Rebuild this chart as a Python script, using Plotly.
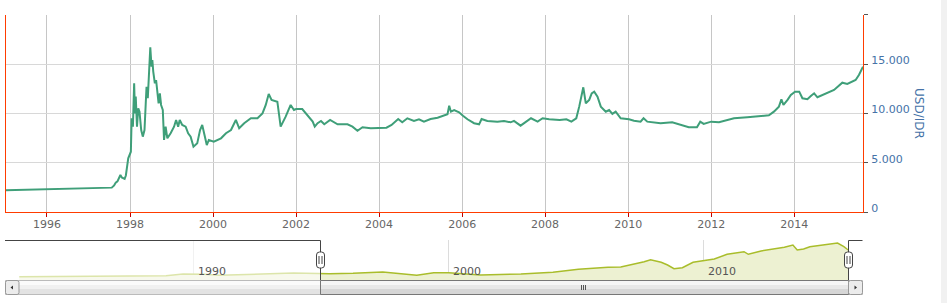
import plotly.graph_objects as go

# ---------------- data ----------------
usd_idr_dates = [
    "1995-01-01", "1995-07-01", "1996-01-01", "1996-07-01", "1997-01-01", "1997-06-15",
    "1997-07-24", "1997-08-14", "1997-08-28", "1997-09-12", "1997-10-08", "1997-10-20",
    "1997-11-14", "1997-11-25", "1997-12-09", "1997-12-16", "1998-01-08", "1998-01-15",
    "1998-01-26", "1998-02-06", "1998-02-13", "1998-02-20", "1998-03-03", "1998-03-14",
    "1998-03-25", "1998-04-09", "1998-04-23", "1998-05-08", "1998-05-19", "1998-05-26",
    "1998-06-06", "1998-06-21", "1998-06-28", "1998-07-09", "1998-07-16", "1998-07-24",
    "1998-08-07", "1998-08-18", "1998-08-29", "1998-09-09", "1998-09-20", "1998-10-01",
    "1998-10-16", "1998-10-27", "1998-11-10", "1998-11-25", "1998-12-24", "1999-01-23",
    "1999-02-10", "1999-02-28", "1999-03-14", "1999-04-05", "1999-05-05", "1999-05-27",
    "1999-06-18", "1999-07-13", "1999-08-15", "1999-09-09", "1999-09-28", "1999-10-12",
    "1999-11-07", "1999-11-25", "2000-01-08", "2000-03-11", "2000-04-24", "2000-06-07",
    "2000-07-20", "2000-08-18", "2000-10-01", "2000-11-29", "2001-01-26", "2001-03-11",
    "2001-04-09", "2001-05-05", "2001-05-30", "2001-07-20", "2001-08-18", "2001-10-01",
    "2001-11-14", "2001-12-13",
    "2002-01-01", "2002-02-24", "2002-04-09", "2002-05-27", "2002-06-14", "2002-07-09",
    "2002-08-08", "2002-09-06", "2002-10-27", "2003-01-01", "2003-03-29", "2003-05-12",
    "2003-06-25", "2003-08-08", "2003-10-20", "2004-01-01", "2004-03-06", "2004-04-20",
    "2004-06-17", "2004-07-23", "2004-09-06", "2004-11-03", "2004-12-17", "2005-01-30",
    "2005-03-29", "2005-05-30", "2005-07-27", "2005-08-25", "2005-09-09", "2005-09-24",
    "2005-10-23", "2005-12-05", "2006-01-08", "2006-02-17", "2006-04-16", "2006-05-30",
    "2006-06-21", "2006-08-11", "2006-11-07", "2007-01-04", "2007-03-04", "2007-04-02",
    "2007-05-30", "2007-07-13", "2007-08-30", "2007-10-27", "2007-12-10", "2008-02-06",
    "2008-05-08", "2008-07-06", "2008-08-19", "2008-10-01", "2008-10-27", "2008-12-02",
    "2008-12-24", "2009-01-23", "2009-02-14", "2009-03-08", "2009-04-06", "2009-05-05",
    "2009-06-18", "2009-07-17", "2009-08-15", "2009-09-13", "2009-10-27", "2010-01-08",
    "2010-02-21", "2010-04-20", "2010-05-16", "2010-06-18", "2010-10-13", "2011-01-23",
    "2011-04-06", "2011-06-18", "2011-08-29", "2011-09-27", "2011-10-27", "2012-01-01",
    "2012-03-10", "2012-05-23", "2012-07-20", "2012-11-14", "2013-03-11", "2013-05-23",
    "2013-07-06", "2013-08-19", "2013-09-10", "2013-09-28", "2013-11-03", "2013-12-02",
    "2014-01-08", "2014-02-14", "2014-03-14", "2014-04-27", "2014-05-27", "2014-06-25",
    "2014-07-24", "2014-10-20", "2014-12-17", "2015-02-28", "2015-04-13", "2015-06-25",
    "2015-07-24", "2015-08-29",
]
usd_idr_values = [
    2200, 2250, 2290, 2340, 2370, 2430,
    2470, 2700, 2980, 3100, 3750, 3500,
    3350, 3700, 4970, 5440, 6110, 9500,
    8650, 13050, 10000, 11700, 8650, 10510,
    10170, 8310, 7640, 8310, 11020, 12700,
    11530, 15400, 16700, 14730, 15400, 14230,
    13050, 13380, 12200, 11020, 12030, 10850,
    10340, 7300, 8650, 7470, 7980, 8650,
    9330, 8650, 9330, 8820, 8650, 7980,
    7640, 6620, 6960, 8310, 8820, 7980,
    6790, 7300, 7130, 7470, 7980, 8310,
    9330, 8490, 9000, 9500, 9500, 10000,
    10850, 11960, 11360, 11180, 8650, 9660,
    10850, 10340,
    10440, 10440, 9840, 9160, 8650, 9000,
    9230, 8890, 9330, 8890, 8890, 8650,
    8240, 8590, 8490, 8490, 8550, 8820,
    9430, 9090, 9500, 9230, 9400, 9160,
    9430, 9560, 9840, 9910, 10780, 10170,
    10340, 10110, 9760, 9400, 9000, 8890,
    9430, 9230, 9160, 9230, 9090, 9230,
    8750, 9090, 9500, 9160, 9500, 9400,
    9330, 9400, 9160, 9500, 10680, 12640,
    11020, 11360, 12030, 12200, 11700, 10680,
    10170, 10340, 9940, 10170, 9500, 9400,
    9260, 9160, 9500, 9160, 9000, 9090,
    8820, 8590, 8590, 9160, 8930, 9160,
    9090, 9330, 9500, 9600, 9730, 9800,
    10170, 10680, 11430, 10850, 11360, 11860,
    12200, 12200, 11530, 11430, 11760, 12030,
    11630, 12030, 12370, 13110, 12980, 13380,
    13890, 14730,
]

# navigator series (relative scale 0-40)
nav_dates = [
    "1983-03-01", "1988-12-01", "1989-08-01", "1990-06-01", "1991-01-01", "1993-12-01",
    "1995-05-01", "1996-04-01", "1997-06-01", "1998-10-01", "1999-06-01", "2000-01-01",
    "2001-04-01", "2002-11-01", "2004-02-01", "2005-02-01", "2006-04-01", "2006-10-01",
    "2007-09-01", "2007-12-01", "2008-05-01", "2008-08-01", "2008-11-01", "2009-03-01",
    "2009-08-01", "2010-01-01", "2010-06-01", "2010-12-01", "2011-08-01", "2011-10-01",
    "2012-04-01", "2013-03-01", "2013-07-01", "2013-09-01", "2013-12-01", "2014-03-01",
    "2014-10-01", "2015-04-01", "2015-07-01", "2015-09-01",
]
nav_values = [
    3.3, 4.3, 6.0, 5.7, 4.7, 7.0,
    6.3, 6.7, 8.0, 4.7, 7.3, 7.3,
    5.0, 6.0, 7.7, 10.7, 12.7, 13.0,
    18.3, 20.3, 17.7, 15.0, 11.3, 12.3,
    17.7, 19.3, 21.0, 25.7, 28.3, 25.7,
    29.0, 32.7, 35.0, 30.0, 31.0, 33.3,
    35.0, 37.0, 33.3, 30.0,
]

x_tick_years = ["1996", "1998", "2000", "2002", "2004", "2006", "2008", "2010", "2012", "2014"]
y_tick_values = [0, 5000, 10000, 15000, 20000]
y_tick_labels = ["0", "5.000", "10.000", "15.000", ""]
nav_tick_years = ["1990", "2000", "2010"]
y_title = "USD/IDR"

main_range = ["1995-01-01", "2015-08-29"]
nav_range = ["1983-02-25", "2015-08-29"]

# ---------------- layout helpers ----------------
W, H = 947, 303
def px(x):
    return x / W
def py(y):
    return 1 - y / H

FONT = "DejaVu Sans"
RED = "#ff3c00"

fig = go.Figure()
fig.add_trace(go.Scatter(
    x=usd_idr_dates, y=usd_idr_values, mode="lines",
    line=dict(color="#3f9f79", width=2), xaxis="x", yaxis="y",
    hoverinfo="skip", showlegend=False,
))
fig.add_trace(go.Scatter(
    x=nav_dates, y=nav_values, mode="lines", fill="tozeroy",
    fillcolor="#edf1d2", line=dict(color="#a9bd2b", width=1.5),
    xaxis="x2", yaxis="y2", hoverinfo="skip", showlegend=False,
))

shapes = []
def rect(x0, y0, x1, y1, fill, line=None, lw=1, layer="above", opacity=1):
    shapes.append(dict(type="rect", xref="paper", yref="paper",
                       x0=px(x0), x1=px(x1), y0=py(y0), y1=py(y1),
                       fillcolor=fill, opacity=opacity, layer=layer,
                       line=dict(color=line or "rgba(0,0,0,0)", width=lw if line else 0)))
def seg(x0, y0, x1, y1, color, lw=1):
    shapes.append(dict(type="line", xref="paper", yref="paper",
                       x0=px(x0), x1=px(x1), y0=py(y0), y1=py(y1),
                       line=dict(color=color, width=lw), layer="above"))
def rounded(x0, y0, x1, y1, r, fill, line):
    p = (f"M{px(x0+r)},{py(y0)} L{px(x1-r)},{py(y0)} Q{px(x1)},{py(y0)} {px(x1)},{py(y0+r)} "
         f"L{px(x1)},{py(y1-r)} Q{px(x1)},{py(y1)} {px(x1-r)},{py(y1)} "
         f"L{px(x0+r)},{py(y1)} Q{px(x0)},{py(y1)} {px(x0)},{py(y1-r)} "
         f"L{px(x0)},{py(y0+r)} Q{px(x0)},{py(y0)} {px(x0+r)},{py(y0)} Z")
    shapes.append(dict(type="path", xref="paper", yref="paper", path=p,
                       fillcolor=fill, line=dict(color=line, width=1), layer="above"))
def tri(points, color):
    p = "M" + " L".join(f"{px(a)},{py(b)}" for a, b in points) + " Z"
    shapes.append(dict(type="path", xref="paper", yref="paper", path=p,
                       fillcolor=color, line=dict(color=color, width=0), layer="above"))

# navigator mask (outside selection)
rect(19, 240, 320, 280, "white", opacity=0.6)
# navigator outline
seg(5, 240.5, 320.5, 240.5, "#444")
seg(320.5, 240.5, 320.5, 280.5, "#444")
seg(848.5, 280.5, 848.5, 240.5, "#444")
seg(848.5, 240.5, 862.5, 240.5, "#444")

# scrollbar track
rect(5.5, 280.5, 862.5, 294.5, "#f0f0f0", "#bbbbbb")
rect(19, 281, 320, 285, "#fbfbfb")
rect(19, 285, 320, 289, "#f1f1f1")
rect(19, 289, 320, 294, "#e3e3e3")
# scrollbar thumb
rect(321, 281, 848, 285, "#f6f6f6")
rect(321, 285, 848, 289, "#e8e8e8")
rect(321, 289, 848, 294, "#d6d6d6")
rect(320.5, 280.5, 848.5, 294.5, "rgba(0,0,0,0)", "#777777")
for gx in (581.5, 583.5, 585.5):
    seg(gx, 285, gx, 290, "#555")
# buttons
rounded(5.5, 280.5, 19, 294.5, 2, "#ececec", "#999999")
rounded(848.5, 280.5, 862.5, 294.5, 2, "#ececec", "#999999")
tri([(10.5, 287.5), (13, 285.5), (13, 289.5)], "#333")
tri([(857, 287.5), (854.5, 285.5), (854.5, 289.5)], "#333")
# handles
for hx in (320.5, 848.5):
    rounded(hx - 4, 252, hx + 4, 268, 3, "white", "#444")
    seg(hx - 1.5, 256, hx - 1.5, 264, "#444")
    seg(hx + 1.5, 256, hx + 1.5, 264, "#444")

# page scrollbar strip on the right
rect(941, 0, 947, 303, "#f1f1f1", layer="below")

annotations = [dict(
    text=y_title, textangle=90, x=px(919), y=py(113), xref="paper", yref="paper",
    showarrow=False, font=dict(family=FONT, size=12, color="#4572A7"),
    xanchor="center", yanchor="middle",
)]
for yr in nav_tick_years:
    annotations.append(dict(
        text=yr, x=f"{yr}-01-01", xref="x2", y=py(271.5), yref="paper",
        showarrow=False, xanchor="left", yanchor="middle", xshift=2,
        font=dict(family=FONT, size=11, color="#555"),
    ))

fig.update_layout(
    width=W, height=H, margin=dict(l=0, r=0, t=0, b=0, autoexpand=False),
    paper_bgcolor="white", plot_bgcolor="white",
    font=dict(family=FONT, size=11),
    xaxis=dict(
        domain=[px(5.5), px(863)], range=main_range, type="date",
        tickvals=[f"{y}-01-01" for y in x_tick_years], ticktext=x_tick_years,
        showgrid=True, gridcolor="#c6c6c6", gridwidth=1,
        showline=True, linecolor=RED, linewidth=1,
        ticks="outside", ticklen=4, tickcolor="#c00000",
        tickfont=dict(family=FONT, size=11, color="#666"),
        ticklabelstandoff=-2,
        zeroline=False, fixedrange=True, anchor="y", automargin=False,
    ),
    yaxis=dict(
        domain=[py(212), py(14.7)], range=[0, 20000], side="right",
        tickvals=y_tick_values, ticktext=y_tick_labels,
        showgrid=True, gridcolor="#d8d8d8", gridwidth=1,
        showline=True, linecolor=RED, linewidth=1, mirror=True,
        ticks="outside", ticklen=4, tickcolor="#555",
        tickfont=dict(family=FONT, size=11, color="#4572A7"),
        ticklabelshift=-4, ticklabelstandoff=1,
        zeroline=False, fixedrange=True, anchor="x", automargin=False,
    ),
    xaxis2=dict(
        domain=[px(19), px(848)], range=nav_range, type="date",
        tickvals=[f"{y}-01-01" for y in nav_tick_years],
        showticklabels=False, showgrid=True, gridcolor="#dcdcdc",
        ticks="", showline=False, zeroline=False, anchor="y2", automargin=False,
    ),
    yaxis2=dict(
        domain=[py(280), py(240)], range=[0, 40], visible=False,
        showgrid=False, zeroline=False, anchor="x2", automargin=False,
    ),
    shapes=shapes, annotations=annotations,
)

fig.write_html("out.html")
